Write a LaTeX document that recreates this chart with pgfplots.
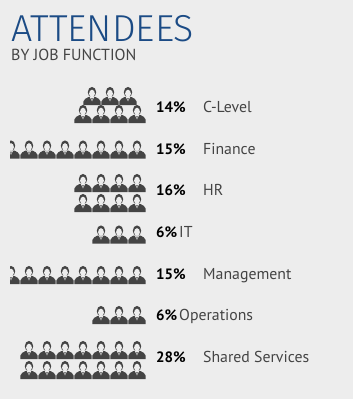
\documentclass[border=0pt]{standalone}
\usepackage{pgfplots}
\pgfplotsset{compat=1.18}
\usepackage{fontspec}
\setmainfont{PT Sans}
\newfontfamily\lightf[UprightFont=* Light,BoldFont=*]{Fira Sans}
\definecolor{bg}{HTML}{EDEDED}
\definecolor{dark}{HTML}{444444}
\definecolor{ttl}{HTML}{1B4B85}
\definecolor{sub}{HTML}{444444}
\pgfdeclareplotmark{person}{%
  \pgfsetfillcolor{dark}%
  % body
  \pgfpathmoveto{\pgfpoint{-8.6pt}{-9pt}}
  \pgfpathlineto{\pgfpoint{-8.6pt}{-5.5pt}}
  \pgfpathcurveto{\pgfpoint{-8.6pt}{-3pt}}{\pgfpoint{-5.5pt}{-2.4pt}}{\pgfpoint{-3.4pt}{-1pt}}
  \pgfpathlineto{\pgfpoint{3.4pt}{-1pt}}
  \pgfpathcurveto{\pgfpoint{5.5pt}{-2.4pt}}{\pgfpoint{8.6pt}{-3pt}}{\pgfpoint{8.6pt}{-5.5pt}}
  \pgfpathlineto{\pgfpoint{8.6pt}{-9pt}}
  \pgfpathclose
  \pgfusepath{fill}
  % head
  \pgfpathellipse{\pgfpoint{0pt}{3.8pt}}{\pgfpoint{4.2pt}{0pt}}{\pgfpoint{0pt}{5.3pt}}
  \pgfusepath{fill}
  \pgfsetfillcolor{bg}%
  % face
  \pgfpathellipse{\pgfpoint{0pt}{2.4pt}}{\pgfpoint{2.9pt}{0pt}}{\pgfpoint{0pt}{3.9pt}}
  \pgfusepath{fill}
  % collar
  \pgfpathmoveto{\pgfpoint{-2.2pt}{-1pt}}
  \pgfpathlineto{\pgfpoint{2.2pt}{-1pt}}
  \pgfpathlineto{\pgfpoint{0pt}{-5.5pt}}
  \pgfpathclose
  \pgfusepath{fill}
  \pgfsetfillcolor{dark}%
  \pgfpathmoveto{\pgfpoint{-0.7pt}{-2pt}}
  \pgfpathlineto{\pgfpoint{0.7pt}{-2pt}}
  \pgfpathlineto{\pgfpoint{0pt}{-5.5pt}}
  \pgfpathclose
  \pgfusepath{fill}
}
% same figure, cut off by the left edge of the picture
\pgfdeclareplotmark{personcut}{%
  \begin{pgfscope}
  \pgfpathrectangle{\pgfpoint{-1pt}{-10pt}}{\pgfpoint{12pt}{20pt}}
  \pgfusepath{clip}
  \pgfuseplotmark{person}
  \end{pgfscope}
}
\begin{document}
\begin{tikzpicture}[x=1pt,y=1pt]
\fill[bg] (0,0) rectangle (353,399);
\begin{axis}[
  at={(0,0)},anchor=south west,
  scale only axis,width=353pt,height=399pt,
  xmin=0,xmax=353,ymin=0,ymax=399,y dir=reverse,
  axis lines=none,clip=false,
]
\addplot[only marks,mark=person] coordinates {
 (92,96) (110,96) (128,96)
 (83,114) (101,114) (119,114) (137,114)
 (29,149.5) (47,149.5) (65,149.5) (83,149.5) (101,149.5) (119,149.5) (137,149.5)
 (83,183) (101,183) (119,183) (137,183)
 (83,203) (101,203) (119,203) (137,203)
 (101,234.5) (119,234.5) (137,234.5)
 (29,275) (47,275) (65,275) (83,275) (101,275) (119,275) (137,275)
 (101,315) (119,315) (137,315)
 (29,350) (47,350) (65,350) (83,350) (101,350) (119,350) (137,350)
 (29,370) (47,370) (65,370) (83,370) (101,370) (119,370) (137,370)
};
\addplot[only marks,mark=personcut] coordinates {(11,149.5) (11,275)};
\node[anchor=base west,inner sep=0,text=ttl,font=\lightf\fontsize{37.5}{37.5}\selectfont] at (axis cs:11,41.5) {ATTENDEES};
\node[anchor=base west,inner sep=0,text=sub,font=\fontsize{16}{16}\selectfont] at (axis cs:11,60) {BY JOB FUNCTION};
\foreach \y/\p/\n/\lx in {112/14/C-Level/203,154/15/Finance/203,195/16/HR/203,237/6/IT/179,279/15/Management/203,320/6/Operations/179,362/28/Shared Services/203}{
  \edef\tmp{\noexpand\node[anchor=base west,inner sep=0,font=\noexpand\bfseries\noexpand\fontsize{15}{15}\noexpand\selectfont,text=black] at (axis cs:156,\y) {\p\noexpand\%};
  \noexpand\node[anchor=base west,inner sep=0,font=\noexpand\fontsize{15.8}{15.8}\noexpand\selectfont,text=sub] at (axis cs:\lx,\y) {\n};}
  \tmp
}
\end{axis}
\end{tikzpicture}
\end{document}
